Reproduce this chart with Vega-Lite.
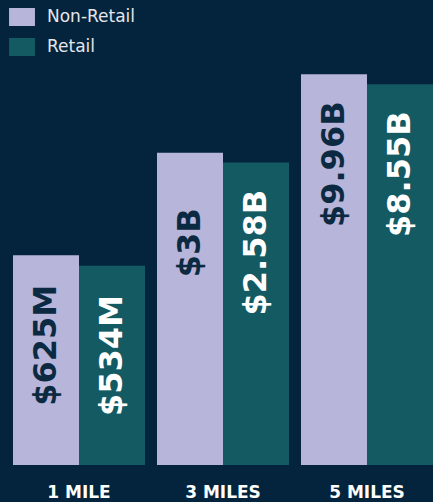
{
  "$schema": "https://vega.github.io/schema/vega-lite/v6.json",
  "autosize": {"type": "none"},
  "width": 420,
  "height": 465,
  "padding": {"left": 13, "top": 0, "right": 0, "bottom": 37},
  "background": "#03243c",
  "config": {"view": {"stroke": null}},
  "data": {
    "values": [
      {"distance": "1 MILE", "type": "Non-Retail", "value": 625000000, "label": "$625M"},
      {"distance": "1 MILE", "type": "Retail", "value": 534000000, "label": "$534M"},
      {"distance": "3 MILES", "type": "Non-Retail", "value": 3000000000, "label": "$3B"},
      {"distance": "3 MILES", "type": "Retail", "value": 2580000000, "label": "$2.58B"},
      {"distance": "5 MILES", "type": "Non-Retail", "value": 9960000000, "label": "$9.96B"},
      {"distance": "5 MILES", "type": "Retail", "value": 8550000000, "label": "$8.55B"}
    ]
  },
  "encoding": {
    "x": {
      "field": "distance", "type": "nominal", "sort": null,
      "scale": {"paddingInner": 0.0833, "paddingOuter": 0},
      "axis": {"title": null, "labelAngle": 0, "domain": false, "ticks": false,
               "labelFont": "DejaVu Sans", "labelFontWeight": "bold", "labelFontSize": 17,
               "labelColor": "#ffffff", "labelPadding": 19}
    },
    "xOffset": {"field": "type", "type": "nominal", "sort": ["Non-Retail", "Retail"], "scale": {"paddingInner": 0, "paddingOuter": 0}},
    "y": {
      "field": "value", "type": "quantitative",
      "scale": {"type": "log", "domain": [25350000, 31000000000], "nice": false},
      "axis": null
    }
  },
  "layer": [
    {
      "mark": {"type": "bar"},
      "encoding": {
        "y2": {"datum": 25350000},
        "color": {
          "field": "type", "type": "nominal", "sort": ["Non-Retail", "Retail"],
          "scale": {"domain": ["Non-Retail", "Retail"], "range": ["#b7b5da", "#135a63"]},
          "legend": {
            "title": null, "orient": "none", "legendX": 0, "legendY": 8,
            "symbolType": "M-1.44,-1H1.44V1H-1.44Z", "symbolSize": 324, "symbolStrokeWidth": 0,
            "labelFont": "DejaVu Sans", "labelFontSize": 17, "labelColor": "#e6e6ea",
            "labelOffset": 16, "rowPadding": 12, "symbolOpacity": 1
          }
        }
      }
    },
    {
      "mark": {"type": "text", "angle": 270, "align": "center", "baseline": "middle", "dx": -90,
               "font": "DejaVu Sans", "fontWeight": "bold", "fontSize": 32},
      "encoding": {
        "text": {"field": "label"},
        "color": {"condition": {"test": "datum.type === 'Retail'", "value": "#ffffff"}, "value": "#0b2a42"}
      }
    }
  ]
}
